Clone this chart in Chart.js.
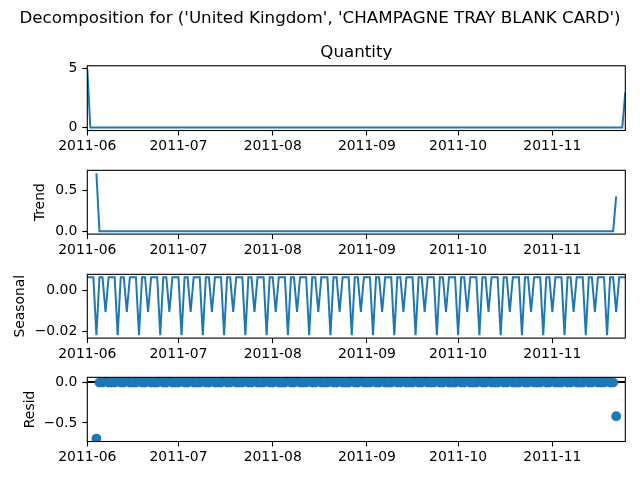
<!DOCTYPE html>
<html>
<head>
<meta charset="utf-8">
<script src="https://cdn.jsdelivr.net/npm/chart.js@4.4.1/dist/chart.umd.min.js"></script>
<style>
  html, body { margin: 0; padding: 0; background: #fff; }
  #fig { position: relative; width: 640px; height: 480px; overflow: hidden; }
  #fig canvas { position: absolute; left: 0; }
</style>
</head>
<body>
<div id="fig">
  <canvas id="chartObserved"></canvas>
  <canvas id="chartTrend"></canvas>
  <canvas id="chartSeasonal"></canvas>
  <canvas id="chartResid"></canvas>
</div>
<script>
// Daily values, 2011-06-01 (day 0) .. 2011-11-25 (day 177), one week per row (Wed..Tue)
const quantity = [
  5, 0, 0, 0, 0, 0, 0,
  0, 0, 0, 0, 0, 0, 0,
  0, 0, 0, 0, 0, 0, 0,
  0, 0, 0, 0, 0, 0, 0,
  0, 0, 0, 0, 0, 0, 0,
  0, 0, 0, 0, 0, 0, 0,
  0, 0, 0, 0, 0, 0, 0,
  0, 0, 0, 0, 0, 0, 0,
  0, 0, 0, 0, 0, 0, 0,
  0, 0, 0, 0, 0, 0, 0,
  0, 0, 0, 0, 0, 0, 0,
  0, 0, 0, 0, 0, 0, 0,
  0, 0, 0, 0, 0, 0, 0,
  0, 0, 0, 0, 0, 0, 0,
  0, 0, 0, 0, 0, 0, 0,
  0, 0, 0, 0, 0, 0, 0,
  0, 0, 0, 0, 0, 0, 0,
  0, 0, 0, 0, 0, 0, 0,
  0, 0, 0, 0, 0, 0, 0,
  0, 0, 0, 0, 0, 0, 0,
  0, 0, 0, 0, 0, 0, 0,
  0, 0, 0, 0, 0, 0, 0,
  0, 0, 0, 0, 0, 0, 0,
  0, 0, 0, 0, 0, 0, 0,
  0, 0, 0, 0, 0, 0, 0,
  0, 0, 3
];

const trend = [
  null, null, null, 0.714, 0, 0, 0,
  0, 0, 0, 0, 0, 0, 0,
  0, 0, 0, 0, 0, 0, 0,
  0, 0, 0, 0, 0, 0, 0,
  0, 0, 0, 0, 0, 0, 0,
  0, 0, 0, 0, 0, 0, 0,
  0, 0, 0, 0, 0, 0, 0,
  0, 0, 0, 0, 0, 0, 0,
  0, 0, 0, 0, 0, 0, 0,
  0, 0, 0, 0, 0, 0, 0,
  0, 0, 0, 0, 0, 0, 0,
  0, 0, 0, 0, 0, 0, 0,
  0, 0, 0, 0, 0, 0, 0,
  0, 0, 0, 0, 0, 0, 0,
  0, 0, 0, 0, 0, 0, 0,
  0, 0, 0, 0, 0, 0, 0,
  0, 0, 0, 0, 0, 0, 0,
  0, 0, 0, 0, 0, 0, 0,
  0, 0, 0, 0, 0, 0, 0,
  0, 0, 0, 0, 0, 0, 0,
  0, 0, 0, 0, 0, 0, 0,
  0, 0, 0, 0, 0, 0, 0,
  0, 0, 0, 0, 0, 0, 0,
  0, 0, 0, 0, 0, 0, 0,
  0, 0, 0, 0, 0, 0, 0.429,
  null, null, null
];

const seasonal = [
  0.0065, 0.0065, 0.0065, -0.0220, 0.0065, 0.0065, -0.0106,
  0.0065, 0.0065, 0.0065, -0.0220, 0.0065, 0.0065, -0.0106,
  0.0065, 0.0065, 0.0065, -0.0220, 0.0065, 0.0065, -0.0106,
  0.0065, 0.0065, 0.0065, -0.0220, 0.0065, 0.0065, -0.0106,
  0.0065, 0.0065, 0.0065, -0.0220, 0.0065, 0.0065, -0.0106,
  0.0065, 0.0065, 0.0065, -0.0220, 0.0065, 0.0065, -0.0106,
  0.0065, 0.0065, 0.0065, -0.0220, 0.0065, 0.0065, -0.0106,
  0.0065, 0.0065, 0.0065, -0.0220, 0.0065, 0.0065, -0.0106,
  0.0065, 0.0065, 0.0065, -0.0220, 0.0065, 0.0065, -0.0106,
  0.0065, 0.0065, 0.0065, -0.0220, 0.0065, 0.0065, -0.0106,
  0.0065, 0.0065, 0.0065, -0.0220, 0.0065, 0.0065, -0.0106,
  0.0065, 0.0065, 0.0065, -0.0220, 0.0065, 0.0065, -0.0106,
  0.0065, 0.0065, 0.0065, -0.0220, 0.0065, 0.0065, -0.0106,
  0.0065, 0.0065, 0.0065, -0.0220, 0.0065, 0.0065, -0.0106,
  0.0065, 0.0065, 0.0065, -0.0220, 0.0065, 0.0065, -0.0106,
  0.0065, 0.0065, 0.0065, -0.0220, 0.0065, 0.0065, -0.0106,
  0.0065, 0.0065, 0.0065, -0.0220, 0.0065, 0.0065, -0.0106,
  0.0065, 0.0065, 0.0065, -0.0220, 0.0065, 0.0065, -0.0106,
  0.0065, 0.0065, 0.0065, -0.0220, 0.0065, 0.0065, -0.0106,
  0.0065, 0.0065, 0.0065, -0.0220, 0.0065, 0.0065, -0.0106,
  0.0065, 0.0065, 0.0065, -0.0220, 0.0065, 0.0065, -0.0106,
  0.0065, 0.0065, 0.0065, -0.0220, 0.0065, 0.0065, -0.0106,
  0.0065, 0.0065, 0.0065, -0.0220, 0.0065, 0.0065, -0.0106,
  0.0065, 0.0065, 0.0065, -0.0220, 0.0065, 0.0065, -0.0106,
  0.0065, 0.0065, 0.0065, -0.0220, 0.0065, 0.0065, -0.0106,
  0.0065, 0.0065, 0.0065
];

const resid = [
  null, null, null, -0.692, -0.0065, -0.0065, 0.0106,
  -0.0065, -0.0065, -0.0065, 0.0220, -0.0065, -0.0065, 0.0106,
  -0.0065, -0.0065, -0.0065, 0.0220, -0.0065, -0.0065, 0.0106,
  -0.0065, -0.0065, -0.0065, 0.0220, -0.0065, -0.0065, 0.0106,
  -0.0065, -0.0065, -0.0065, 0.0220, -0.0065, -0.0065, 0.0106,
  -0.0065, -0.0065, -0.0065, 0.0220, -0.0065, -0.0065, 0.0106,
  -0.0065, -0.0065, -0.0065, 0.0220, -0.0065, -0.0065, 0.0106,
  -0.0065, -0.0065, -0.0065, 0.0220, -0.0065, -0.0065, 0.0106,
  -0.0065, -0.0065, -0.0065, 0.0220, -0.0065, -0.0065, 0.0106,
  -0.0065, -0.0065, -0.0065, 0.0220, -0.0065, -0.0065, 0.0106,
  -0.0065, -0.0065, -0.0065, 0.0220, -0.0065, -0.0065, 0.0106,
  -0.0065, -0.0065, -0.0065, 0.0220, -0.0065, -0.0065, 0.0106,
  -0.0065, -0.0065, -0.0065, 0.0220, -0.0065, -0.0065, 0.0106,
  -0.0065, -0.0065, -0.0065, 0.0220, -0.0065, -0.0065, 0.0106,
  -0.0065, -0.0065, -0.0065, 0.0220, -0.0065, -0.0065, 0.0106,
  -0.0065, -0.0065, -0.0065, 0.0220, -0.0065, -0.0065, 0.0106,
  -0.0065, -0.0065, -0.0065, 0.0220, -0.0065, -0.0065, 0.0106,
  -0.0065, -0.0065, -0.0065, 0.0220, -0.0065, -0.0065, 0.0106,
  -0.0065, -0.0065, -0.0065, 0.0220, -0.0065, -0.0065, 0.0106,
  -0.0065, -0.0065, -0.0065, 0.0220, -0.0065, -0.0065, 0.0106,
  -0.0065, -0.0065, -0.0065, 0.0220, -0.0065, -0.0065, 0.0106,
  -0.0065, -0.0065, -0.0065, 0.0220, -0.0065, -0.0065, 0.0106,
  -0.0065, -0.0065, -0.0065, 0.0220, -0.0065, -0.0065, 0.0106,
  -0.0065, -0.0065, -0.0065, 0.0220, -0.0065, -0.0065, 0.0106,
  -0.0065, -0.0065, -0.0065, 0.0220, -0.0065, -0.0065, -0.418,
  null, null, null
];

// x ticks: day offsets of the month starts from 2011-06-01
const monthTicks = [0, 30, 61, 92, 122, 153];
const monthLabels = ['2011-06', '2011-07', '2011-08', '2011-09', '2011-10', '2011-11'];

const quantityTicks = [0, 5];
const quantityTickLabels = ['0', '5'];
const trendTicks = [0, 0.5];
const trendTickLabels = ['0.0', '0.5'];
const seasonalTicks = [-0.02, 0];
const seasonalTickLabels = ['\u22120.02', '0.00'];
const residTicks = [-0.5, 0];
const residTickLabels = ['\u22120.5', '0.0'];

const suptitle = "Decomposition for ('United Kingdom', 'CHAMPAGNE TRAY BLANK CARD')";

// layout (pixels)
const BLUE = '#1f77b4';
const TICK_FONT = 13.9;
const AXIS_LEFT = 87.3;
const AXIS_RIGHT = 625.3;
const PANEL_H = 64.8;
const lastDay = quantity.length - 1;

Chart.defaults.font.family = "'DejaVu Sans', sans-serif";
Chart.defaults.color = '#000';

// draws the full box round the plot area (matplotlib spines)
const framePlugin = {
    id: 'frame',
    afterDraw(chart) {
        const { ctx, chartArea: a } = chart;
        ctx.save();
        ctx.strokeStyle = '#000';
        ctx.lineWidth = 1.1;
        ctx.strokeRect(a.left, a.top, a.right - a.left, a.bottom - a.top);
        ctx.restore();
    }
};

function toPoints(values) {
    return values.map((v, i) => ({ x: i, y: v }));
}

// 5% margin like matplotlib autoscale
function paddedRange(values) {
    const vals = values.filter(v => v !== null);
    const lo = Math.min(...vals);
    const hi = Math.max(...vals);
    const m = (hi - lo) * 0.05;
    return { min: lo - m, max: hi + m };
}

function makePanel(id, p) {
    const canvas = document.getElementById(id);
    const canvasTop = p.first ? 0 : Math.floor(p.top) - 12;
    const padTop = p.first ? 0 : p.top - canvasTop;
    const height = p.first ? 172 : Math.round(padTop + PANEL_H + 36);
    const xAxisH = height - (p.top - canvasTop) - PANEL_H;
    canvas.width = 640;
    canvas.height = height;
    canvas.style.top = canvasTop + 'px';
    canvas.style.width = '640px';
    canvas.style.height = height + 'px';

    const range = paddedRange(p.values);
    const tickGrid = {
        drawOnChartArea: false,
        drawTicks: true,
        tickLength: 5,
        tickColor: '#000',
        tickWidth: 1.1
    };

    new Chart(canvas, {
        type: 'line',
        data: { datasets: p.datasets },
        options: {
            responsive: false,
            animation: false,
            layout: { padding: { top: padTop, right: 0, bottom: 0, left: 0 } },
            plugins: {
                legend: { display: false },
                tooltip: { enabled: false },
                title: p.first ? {
                    display: true,
                    text: suptitle,
                    color: '#000',
                    font: { size: 16.7, weight: 'normal' },
                    padding: { top: 8.7, bottom: 0 }
                } : { display: false },
                subtitle: p.first ? {
                    display: true,
                    text: 'Quantity',
                    color: '#000',
                    fullSize: false,
                    font: { size: 16.7, weight: 'normal' },
                    padding: { top: 14.3, bottom: 2.7 }
                } : { display: false }
            },
            scales: {
                x: {
                    type: 'linear',
                    min: 0,
                    max: lastDay,
                    afterBuildTicks: s => { s.ticks = monthTicks.map(v => ({ value: v })); },
                    afterFit: s => { s.height = xAxisH; },
                    ticks: {
                        autoSkip: false,
                        maxRotation: 0,
                        padding: 3,
                        color: '#000',
                        font: { size: TICK_FONT },
                        callback: (v, i) => monthLabels[i]
                    },
                    grid: tickGrid,
                    border: { display: false }
                },
                y: {
                    type: 'linear',
                    min: range.min,
                    max: range.max,
                    afterBuildTicks: s => { s.ticks = p.yTicks.map(v => ({ value: v })); },
                    afterFit: s => { s.width = AXIS_LEFT; },
                    ticks: {
                        padding: 5,
                        color: '#000',
                        font: { size: TICK_FONT },
                        callback: (v, i) => p.yLabels[i]
                    },
                    grid: tickGrid,
                    border: { display: false },
                    title: {
                        display: !!p.yTitle,
                        text: p.yTitle || '',
                        color: '#000',
                        font: { size: TICK_FONT },
                        padding: { top: (p.yTitleX || 0) - TICK_FONT * 0.6, bottom: 0 }
                    }
                },
                // empty right-hand strip so the full-width title stays centred on the figure
                margin: {
                    type: 'linear',
                    position: 'right',
                    afterFit: s => { s.width = 640 - AXIS_RIGHT; },
                    ticks: { display: false },
                    grid: { display: false },
                    border: { display: false }
                }
            }
        },
        plugins: [framePlugin]
    });
}

function lineSet(values) {
    return {
        data: toPoints(values),
        borderColor: BLUE,
        borderWidth: 2,
        pointRadius: 0,
        tension: 0,
        clip: 0
    };
}

makePanel('chartObserved', {
    first: true,
    top: 65.7,
    values: quantity,
    datasets: [lineSet(quantity)],
    yTicks: quantityTicks,
    yLabels: quantityTickLabels
});

makePanel('chartTrend', {
    top: 169.3,
    values: trend,
    datasets: [lineSet(trend)],
    yTicks: trendTicks,
    yLabels: trendTickLabels,
    yTitle: 'Trend',
    yTitleX: 40.7
});

makePanel('chartSeasonal', {
    top: 273.3,
    values: seasonal,
    datasets: [lineSet(seasonal)],
    yTicks: seasonalTicks,
    yLabels: seasonalTickLabels,
    yTitle: 'Seasonal',
    yTitleX: 20.7
});

makePanel('chartResid', {
    top: 376.7,
    values: resid,
    datasets: [
        {
            data: toPoints(resid),
            showLine: false,
            pointRadius: 4.2,
            pointBorderWidth: 1.4,
            pointBackgroundColor: BLUE,
            pointBorderColor: BLUE,
            clip: 0
        },
        {
            // zero reference line under the dots
            data: [{ x: 0, y: 0 }, { x: lastDay, y: 0 }],
            borderColor: '#000',
            borderWidth: 2,
            pointRadius: 0,
            clip: 0
        }
    ],
    yTicks: residTicks,
    yLabels: residTickLabels,
    yTitle: 'Resid',
    yTitleX: 30
});
</script>
</body>
</html>
